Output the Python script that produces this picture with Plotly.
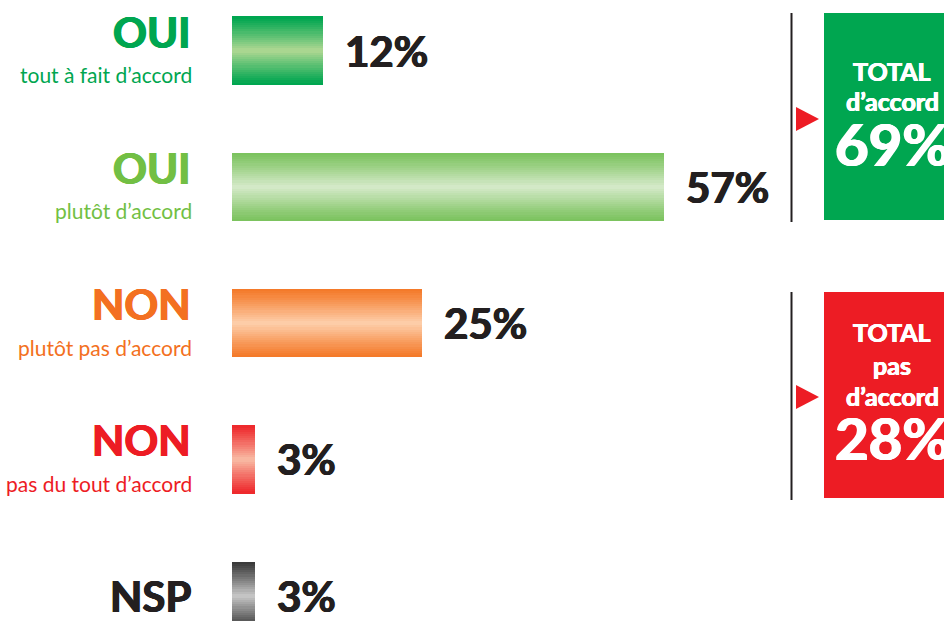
import plotly.graph_objects as go

# ---------------- data ----------------
categories = ["oui_tout", "oui_plutot", "non_plutot", "non_pasdutout", "nsp"]
main_labels = ["OUI", "OUI", "NON", "NON", "NSP"]
sub_labels = ["tout à fait d’accord", "plutôt d’accord", "plutôt pas d’accord",
              "pas du tout d’accord", ""]
values = [12, 57, 25, 3, 3]
value_labels = ["12%", "57%", "25%", "3%", "3%"]
agree_idx = [0, 1]
disagree_idx = [2, 3]
agree_lines = ["TOTAL", "d’accord"]
disagree_lines = ["TOTAL", "pas", "d’accord"]

# ---------------- styles ----------------
W, H = 944, 621
label_colors = ["#00A650", "#72BF44", "#F37021", "#ED1C24", "#231F20"]
edge_colors = ["#00A650", "#7CC35F", "#F47A2A", "#EE2A2D", "#3A3A3A"]
mid_colors = ["#A9D690", "#D3E9C7", "#FDCDA8", "#F8B6A0", "#C4C4C4"]
TXT = "#231F20"
GREEN_BOX = "#00A650"
RED_BOX = "#ED1C24"
FONT_B = "Lato, 'DejaVu Sans', sans-serif"
BAR_W = 0.5
PX_PER_PCT = 7.58
X0_PX = 232


def hex2rgb(h):
    h = h.lstrip("#")
    return [int(h[i:i + 2], 16) for i in (0, 2, 4)]


def mix(a, b, t):
    ra, rb = hex2rgb(a), hex2rgb(b)
    return "rgb(%d,%d,%d)" % tuple(round(ra[i] + (rb[i] - ra[i]) * t) for i in range(3))


def fat(color, d=0.7):
    return "%spx 0 0 %s, -%spx 0 0 %s, 0 %spx 0 %s" % (d, color, d, color, d * 0.5, color)


def px(x):
    return x / W


def py(y):
    return 1 - y / H


fig = go.Figure()

N = 16
for k in range(N):
    frac = 1 - k / N
    t = (k / (N - 1)) ** 1.1
    fig.add_trace(go.Bar(
        x=values, y=categories, orientation="h",
        width=BAR_W * frac,
        marker=dict(color=[mix(edge_colors[i], mid_colors[i], t) for i in range(len(values))],
                    line=dict(width=0)),
        hoverinfo="skip", showlegend=False,
    ))

annotations = []
for i, cat in enumerate(categories):
    has_sub = bool(sub_labels[i])
    annotations.append(dict(
        x=px(193), xref="paper", xanchor="right",
        y=cat, yref="y", yanchor="middle", yshift=19 if has_sub else 0,
        text=main_labels[i], showarrow=False,
        font=dict(family=FONT_B, size=42, color=label_colors[i], weight="bold",
                  shadow=fat(label_colors[i])),
    ))
    if has_sub:
        annotations.append(dict(
            x=px(194), xref="paper", xanchor="right",
            y=cat, yref="y", yanchor="middle", yshift=-24,
            text=sub_labels[i], showarrow=False,
            font=dict(family="Lato, sans-serif", size=21, color=label_colors[i]),
        ))
    annotations.append(dict(
        x=values[i], xref="x", xanchor="left", xshift=20,
        y=cat, yref="y", yanchor="middle",
        text=value_labels[i], showarrow=False,
        font=dict(family=FONT_B, size=42, color=TXT, weight="bold", shadow=fat(TXT)),
    ))

shapes = []
groups = [
    (agree_idx, GREEN_BOX, agree_lines, [71, 101], 143, 13, 220, 119),
    (disagree_idx, RED_BOX, disagree_lines, [332, 365, 396], 437, 292, 498, 397),
]
for idx, col, lines, line_ys, total_y, top, bot, tri_y in groups:
    total = sum(values[i] for i in idx)
    shapes.append(dict(type="line", xref="paper", yref="paper",
                       x0=px(791.5), x1=px(791.5), y0=py(top), y1=py(bot + 2),
                       line=dict(color=TXT, width=2)))
    shapes.append(dict(type="rect", xref="paper", yref="paper",
                       x0=px(824), x1=px(980), y0=py(top), y1=py(bot),
                       fillcolor=col, line=dict(width=0)))
    shapes.append(dict(type="path", xref="paper", yref="paper",
                       path="M %f %f L %f %f L %f %f Z" % (
                           px(796), py(tri_y - 12), px(819), py(tri_y), px(796), py(tri_y + 12)),
                       fillcolor=RED_BOX, line=dict(width=0)))
    for txt, yy in zip(lines, line_ys):
        annotations.append(dict(
            x=px(892), xref="paper", xanchor="center",
            y=py(yy), yref="paper", yanchor="middle",
            text=txt, showarrow=False,
            font=dict(family=FONT_B, size=25, color="white", weight="bold",
                      shadow=fat("white", 0.5)),
        ))
    annotations.append(dict(
        x=px(892), xref="paper", xanchor="center",
        y=py(total_y), yref="paper", yanchor="middle",
        text="%d%%" % total, showarrow=False,
        font=dict(family=FONT_B, size=58, color="white", weight="bold",
                  shadow=fat("white", 0.9)),
    ))

x_max = (W - X0_PX) / PX_PER_PCT
fig.update_layout(
    width=W, height=H,
    margin=dict(l=0, r=0, t=0, b=0),
    paper_bgcolor="white", plot_bgcolor="white",
    barmode="overlay", bargap=0,
    xaxis=dict(domain=[X0_PX / W, 1], range=[0, x_max], visible=False, fixedrange=True),
    yaxis=dict(type="category", categoryorder="array", categoryarray=categories,
               range=[4.185, -0.371], visible=False, fixedrange=True),
    annotations=annotations, shapes=shapes,
    showlegend=False,
)

fig.write_html("out.html", config={"displayModeBar": False})
